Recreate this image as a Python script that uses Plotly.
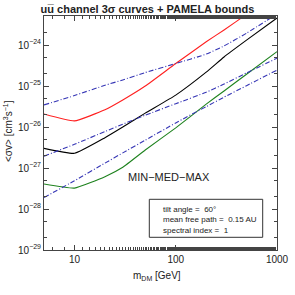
import numpy as np
import plotly.graph_objects as go

mass = [5, 10, 20, 30, 50, 100, 200, 300, 500, 1000]
log_min_3sigma = [-25.68, -25.85, -25.58, -25.34, -25.00, -24.45, -23.92, -23.63, -23.25, -22.72]
log_med_3sigma = [-26.52, -26.64, -26.26, -26.00, -25.66, -25.22, -24.66, -24.29, -23.88, -23.34]
log_max_3sigma = [-27.39, -27.49, -27.21, -26.98, -26.56, -26.02, -25.44, -25.12, -24.71, -24.16]
log_pamela_a = [-25.46, -25.23, -24.98, -24.85, -24.67, -24.45, -24.22, -24.02, -23.71, -23.24]
log_pamela_b = [-26.71, -26.42, -26.11, -25.93, -25.71, -25.43, -25.15, -24.95, -24.68, -24.32]
log_pamela_c = [-27.72, -27.31, -26.88, -26.63, -26.32, -25.90, -25.50, -25.27, -24.99, -24.61]

y_tick_exps = [-29, -28, -27, -26, -25, -24]
x_tick_vals = [10, 100, 1000]

FONT = "Liberation Sans, Arial, sans-serif"
L, R, T, B = 44, 18, 16, 45
W = H = 295
PW, PH = W - L - R, H - T - B

fig = go.Figure()
curves = [
    (log_min_3sigma, "#ff2020", "solid"),
    (log_med_3sigma, "#000000", "solid"),
    (log_max_3sigma, "#1e821e", "solid"),
    (log_pamela_a, "#3535b5", "5px,2px,1px,2px"),
    (log_pamela_b, "#3535b5", "5px,2px,1px,2px"),
    (log_pamela_c, "#3535b5", "5px,2px,1px,2px"),
]
for ys, col, dash in curves:
    fig.add_trace(go.Scatter(
        x=mass, y=[10 ** v for v in ys], mode="lines",
        line=dict(color=col, width=1.1, dash=dash, shape="spline", smoothing=0.4),
        showlegend=False, hoverinfo="skip"))

axis_common = dict(
    showgrid=False, zeroline=False, showline=True, linecolor="#444", linewidth=1,
    mirror="allticks", ticks="inside", ticklen=5, tickcolor="#444", automargin=False,
    tickfont=dict(family=FONT, size=10, color="#222"),
)

fig.update_xaxes(
    type="log", range=[np.log10(5), 3],
    tickvals=x_tick_vals, ticktext=[str(v) for v in x_tick_vals],
    minor=dict(ticks="inside", ticklen=3, tickcolor="#444", showgrid=False),
    **axis_common)
fig.update_yaxes(
    type="log", range=[-29, -23.29],
    tickvals=[10.0 ** e for e in y_tick_exps],
    ticktext=["10<sup>\u2212%d</sup>" % (-e) for e in y_tick_exps],
    minor=dict(ticks="inside", ticklen=3, tickcolor="#444", showgrid=False),
    **axis_common)

def px(x):
    return (x - L) / PW

def py(y):
    return (H - B - y) / PH

fig.update_layout(
    width=W, height=H,
    margin=dict(l=L, r=R, t=T, b=B),
    paper_bgcolor="white", plot_bgcolor="white",
    title=dict(text="<b>uu\u0305 channel 3\u03c3 curves + PAMELA bounds</b>",
               x=0.5, xanchor="center", y=1 - 9 / H, yanchor="middle",
               font=dict(family=FONT, size=11, color="#222")),
    shapes=[dict(type="rect", xref="paper", yref="paper",
                 x0=px(149.3), x1=px(262.7), y0=py(237.3), y1=py(199.3),
                 line=dict(color="#333", width=1))],
    annotations=[
        dict(text="m<sub>DM</sub> [GeV]", xref="paper", yref="paper",
             x=px(157), y=py(276), showarrow=False, yanchor="middle",
             font=dict(family=FONT, size=10, color="#222")),
        dict(text="<\u03c3v> [cm<sup>3</sup>s<sup>\u22121</sup>]", xref="paper", yref="paper",
             x=px(8), y=py(131), showarrow=False, textangle=-90, xanchor="center",
             font=dict(family=FONT, size=10, color="#222")),
        dict(text="MIN\u2212MED\u2212MAX", xref="paper", yref="paper",
             x=px(212), y=py(185), showarrow=False,
             font=dict(family=FONT, size=11, color="#222")),
        dict(text="tilt angle =  60\u00b0<br>mean free path =  0.15 AU<br>spectral index =  1",
             xref="paper", yref="paper", align="left", xanchor="left", yanchor="middle",
             x=px(161), y=py(220), showarrow=False,
             font=dict(family=FONT, size=8, color="#222")),
    ],
)

fig.write_html("out.html", config={"displayModeBar": False},
               post_script="document.body.style.margin='0px';document.body.style.overflow='hidden';")
